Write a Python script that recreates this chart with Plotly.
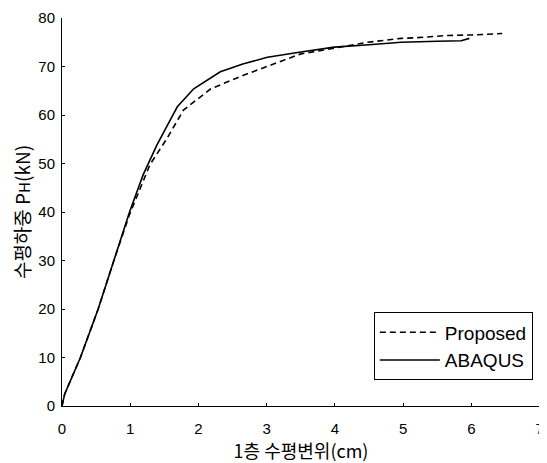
import plotly.graph_objects as go

# ABAQUS (solid)
abaqus_x = [0, 0.04, 0.27, 0.53, 0.76, 0.99, 1.19, 1.39, 1.55, 1.69, 1.93, 2.32, 2.65, 3.01, 3.5, 3.99, 4.5, 4.97, 5.5, 5.85, 5.97]
abaqus_y = [0, 2.5, 10, 20, 30, 40, 47.7, 53.8, 58.0, 61.7, 65.4, 68.9, 70.5, 71.9, 73.0, 74.0, 74.5, 75.0, 75.2, 75.3, 75.8]

# Proposed (dashed)
proposed_x = [0, 0.04, 0.27, 0.53, 0.76, 0.99, 1.29, 1.54, 1.78, 2.18, 2.66, 3.16, 3.5, 4.0, 4.48, 4.97, 5.16, 5.66, 6.0, 6.45]
proposed_y = [0, 2.5, 10, 20, 30, 39.5, 49.8, 55.2, 61.0, 65.4, 68.2, 70.9, 72.6, 73.8, 75.0, 75.8, 75.9, 76.4, 76.5, 76.8]

x_ticks = [0, 1, 2, 3, 4, 5, 6, 7]
y_ticks = [0, 10, 20, 30, 40, 50, 60, 70, 80]

fig = go.Figure()
fig.add_trace(go.Scatter(x=proposed_x, y=proposed_y, mode="lines", name="Proposed",
                         line=dict(color="black", width=1.6, dash="6px,4px")))
fig.add_trace(go.Scatter(x=abaqus_x, y=abaqus_y, mode="lines", name="ABAQUS",
                         line=dict(color="black", width=1.6)))

fig.update_layout(
    width=539, height=455,
    margin=dict(l=54, r=7, t=10, b=57),
    paper_bgcolor="white", plot_bgcolor="white",
    font=dict(family="Liberation Sans, Arial, sans-serif", color="black", size=15),
    showlegend=True,
    legend=dict(x=0.985, y=0.066, xanchor="right", yanchor="bottom",
                bordercolor="black", borderwidth=1, bgcolor="white",
                font=dict(size=19, family="Liberation Sans, Arial, sans-serif"),
                itemwidth=60, tracegroupgap=0),
)
fig.update_xaxes(range=[0, 7.005], tickvals=x_ticks, showline=True, linecolor="black", linewidth=1,
                 ticks="inside", ticklen=3, tickcolor="black", showgrid=False, zeroline=False,
                 automargin=False, ticklabelstandoff=9, ticklabeloverflow="allow",
                 title=dict(text="1층 수평변위(cm)", font=dict(family="Noto Sans CJK KR, sans-serif", size=18), standoff=0))
fig.update_yaxes(range=[0, 80], tickvals=y_ticks, showline=True, linecolor="black", linewidth=1,
                 ticks="inside", ticklen=3, tickcolor="black", showgrid=False, zeroline=False,
                 automargin=False, ticklabelstandoff=3, ticklabeloverflow="allow",
                 title=dict(text="수평하중 P<span style='font-size:15px'>H</span>(kN)",
                            font=dict(family="Noto Sans CJK KR, sans-serif", size=19), standoff=7))

fig.write_html("out.html")
